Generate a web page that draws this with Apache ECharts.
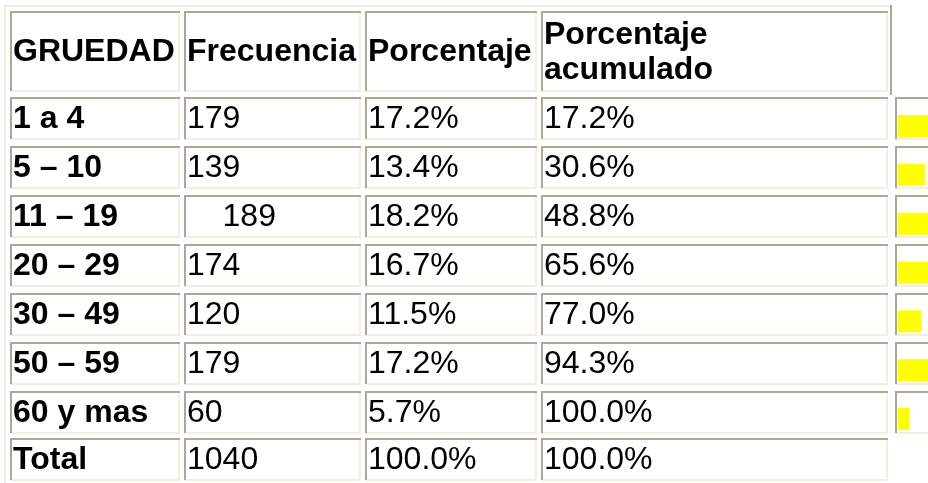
<!DOCTYPE html>
<html>
<head>
<meta charset="utf-8">
<script src="https://cdn.jsdelivr.net/npm/echarts@6/dist/echarts.min.js"></script>
<style type="text/css">
html, body { margin: 0; padding: 0; background: #ffffff; }
#main { width: 928px; height: 483px; }
</style>
</head>
<body>
<div id="main"></div>
<script type="text/javascript">
// datos de la tabla
var headers = ['GRUEDAD', 'Frecuencia', 'Porcentaje', 'Porcentaje\nacumulado'];
var groups = ['1 a 4', '5 – 10', '11 – 19', '20 – 29', '30 – 49', '50 – 59', '60 y mas'];
var freq = [179, 139, 189, 174, 120, 179, 60];
var pct = [17.2, 13.4, 18.2, 16.7, 11.5, 17.2, 5.7];
var cumPct = [17.2, 30.6, 48.8, 65.6, 77.0, 94.3, 100.0];
var totalLabel = 'Total';
var totalFreq = 1040;
var totalPct = 100.0;
var totalCum = 100.0;

// layout de la tabla (px)
var colLeft = [10, 184, 365, 541, 895];
var colRight = [180, 361, 537, 888, 990];
var headTop = 11, headBottom = 92;
var rowTop0 = 97, rowPitch = 49, rowH = 43;
var totalTop = 438, totalBottom = 481;
var dark = '#aca899', light = '#f1efe2';
var fontB = 'bold 32px "Liberation Sans", Arial, sans-serif';
var fontN = '32px "Liberation Sans", Arial, sans-serif';

function fmt(v) { return v.toFixed(1) + '%'; }

var els = [];

// borde exterior de la tabla
els.push({type: 'rect', shape: {x: 4, y: 5, width: 888, height: 2}, style: {fill: light}});
els.push({type: 'rect', shape: {x: 4, y: 5, width: 2, height: 478}, style: {fill: light}});
els.push({type: 'rect', shape: {x: 890, y: 5, width: 2, height: 90}, style: {fill: dark}});

function cell(l, r, t, b) {
    els.push({type: 'rect', shape: {x: l, y: b - 2, width: r - l, height: 2}, style: {fill: light}});
    els.push({type: 'rect', shape: {x: r - 2, y: t, width: 2, height: b - t}, style: {fill: light}});
    els.push({type: 'rect', shape: {x: l, y: t, width: r - l, height: 2}, style: {fill: dark}});
    els.push({type: 'rect', shape: {x: l, y: t, width: 2, height: b - t - 1}, style: {fill: dark}});
}

function txt(s, x, y, font) {
    els.push({
        type: 'text',
        style: {
            text: s, x: x, y: y, font: font, fill: '#000',
            textAlign: 'left', textVerticalAlign: 'middle', lineHeight: 35
        }
    });
}

// cabecera
for (var c = 0; c < 4; c++) {
    cell(colLeft[c], colRight[c], headTop, headBottom);
    txt(headers[c], colLeft[c] + 3, (headTop + headBottom) / 2 + 1, fontB);
}

// filas
for (var i = 0; i < groups.length; i++) {
    var t = rowTop0 + rowPitch * i, b = t + rowH, m = (t + b) / 2 + 1;
    for (var c = 0; c < 5; c++) cell(colLeft[c], colRight[c], t, b);
    txt(groups[i], colLeft[0] + 3, m, fontB);
    txt((i === 2 ? '    ' : '') + freq[i], colLeft[1] + 3, m, fontN);
    txt(fmt(pct[i]), colLeft[2] + 3, m, fontN);
    txt(fmt(cumPct[i]), colLeft[3] + 3, m, fontN);
}

// total
var tm = (totalTop + totalBottom) / 2 + 1;
for (var c = 0; c < 4; c++) cell(colLeft[c], colRight[c], totalTop, totalBottom);
txt(totalLabel, colLeft[0] + 3, tm, fontB);
txt(String(totalFreq), colLeft[1] + 3, tm, fontN);
txt(fmt(totalPct), colLeft[2] + 3, tm, fontN);
txt(fmt(totalCum), colLeft[3] + 3, tm, fontN);

// barras amarillas: 2 px por punto porcentual, cortadas en el borde derecho
var myChart = echarts.init(document.getElementById('main'));
myChart.setOption({
    animation: false,
    backgroundColor: '#ffffff',
    grid: {left: 898, right: 0, top: 101.6, height: 341.8},
    xAxis: {type: 'value', min: 0, max: 15, show: false},
    yAxis: {type: 'category', data: groups, inverse: true, show: false},
    series: [{
        type: 'bar',
        data: pct,
        barWidth: 22,
        itemStyle: {color: '#ffff00'},
        silent: true
    }],
    graphic: {elements: els}
});
</script>
</body>
</html>
